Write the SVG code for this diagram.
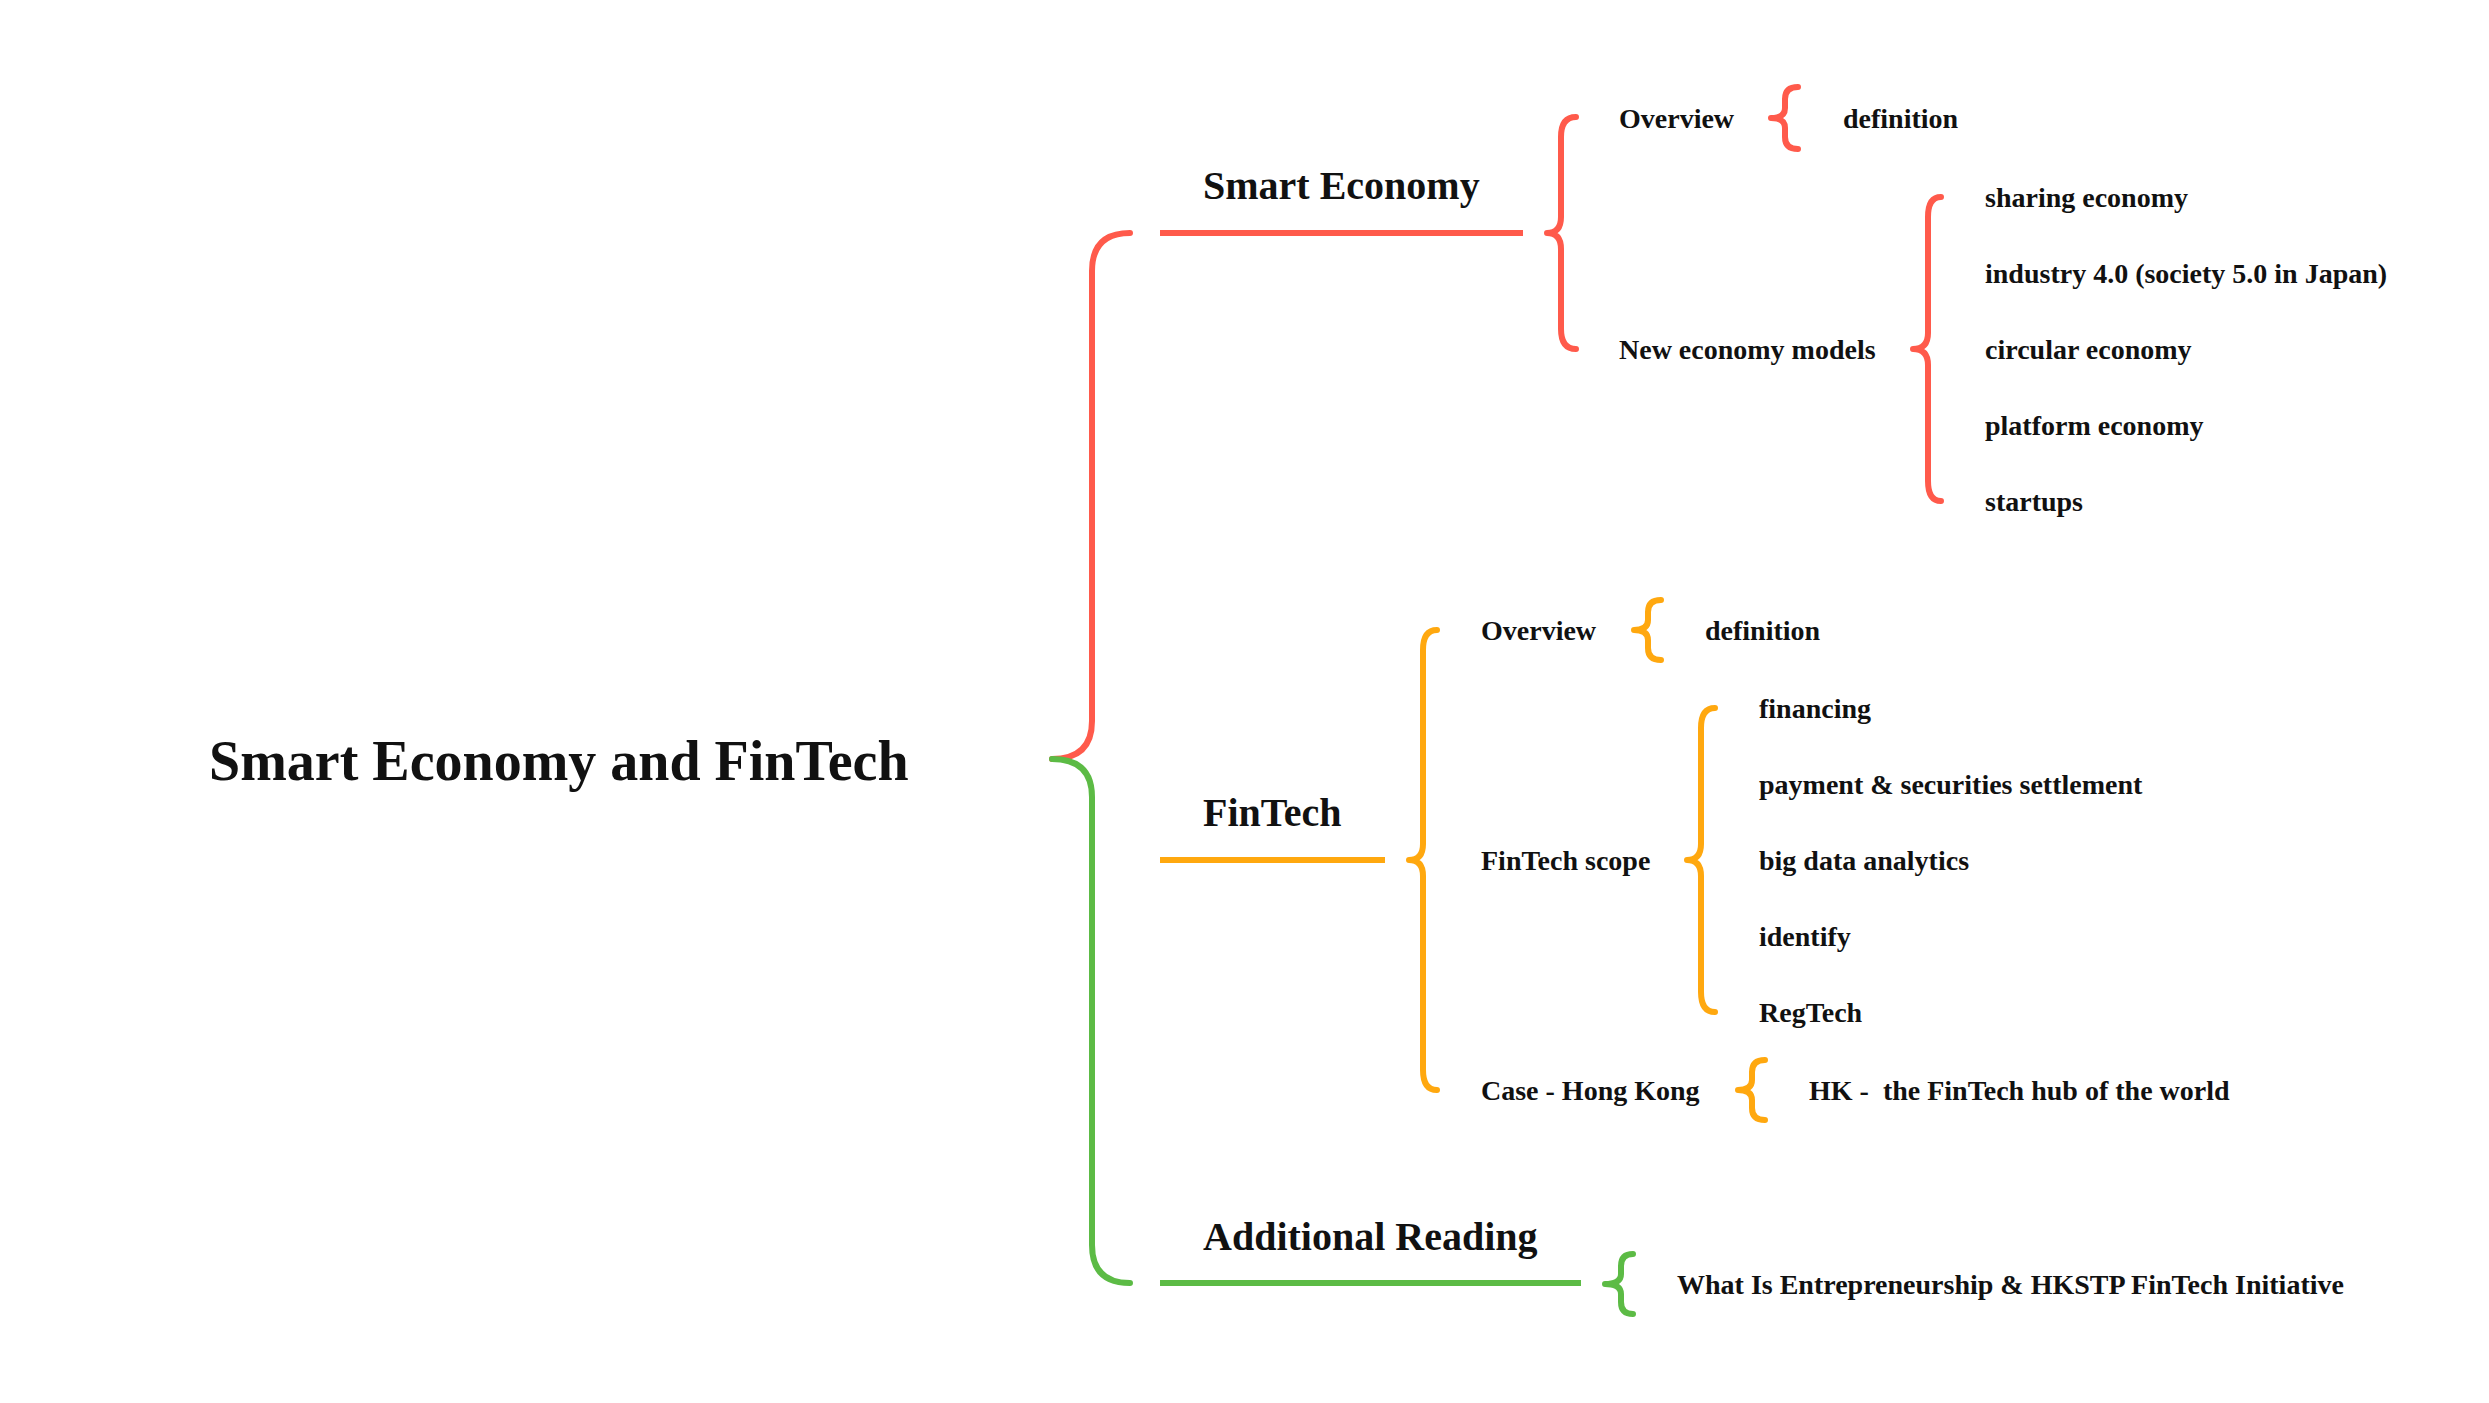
<svg xmlns="http://www.w3.org/2000/svg" width="2489" height="1403" viewBox="0 0 2489 1403">
<style>
text{font-family:"Liberation Serif","Times New Roman",serif;font-weight:bold;fill:#111111;white-space:pre}
.t0{font-size:56px}
.t1{font-size:40px}
.t2{font-size:28px}
.br{fill:none;stroke-width:6;stroke-linecap:round;stroke-linejoin:round}
.ln{fill:none;stroke-width:6;stroke-linecap:butt}
.red{stroke:#FF5A4B}
.org{stroke:#FFA80F}
.grn{stroke:#5CBB45}
</style>
<rect width="2489" height="1403" fill="#ffffff"/>
<g id="connectors">
<path class="br red" d="M1130 233 Q1092 233 1092 271 L1092 721 Q1092 759 1052 759"/>
<path class="br grn" d="M1052 759 Q1092 759 1092 797 L1092 1245 Q1092 1283 1130 1283"/>
<line class="ln red" x1="1160" y1="233" x2="1523" y2="233"/>
<line class="ln org" x1="1160" y1="860" x2="1385" y2="860"/>
<line class="ln grn" x1="1160" y1="1283" x2="1581" y2="1283"/>
<path class="br red" d="M1576 117 Q1561 117 1561 137 L1561 217 Q1561 233 1547 233 Q1561 233 1561 249 L1561 329 Q1561 349 1576 349"/>
<path class="br red" d="M1798 87 Q1785 87 1785 99 L1785 108 Q1785 118 1771 118 Q1785 118 1785 128 L1785 137 Q1785 149 1798 149"/>
<path class="br red" d="M1941 197 Q1928 197 1928 217 L1928 333 Q1928 349 1913 349 Q1928 349 1928 365 L1928 481 Q1928 501 1941 501"/>
<path class="br org" d="M1437 630 Q1423 630 1423 650 L1423 844 Q1423 860 1409 860 Q1423 860 1423 876 L1423 1070 Q1423 1090 1437 1090"/>
<path class="br org" d="M1661 600 Q1648 600 1648 612 L1648 620 Q1648 630 1634 630 Q1648 630 1648 640 L1648 648 Q1648 660 1661 660"/>
<path class="br org" d="M1715 708 Q1701 708 1701 728 L1701 844 Q1701 860 1687 860 Q1701 860 1701 876 L1701 992 Q1701 1012 1715 1012"/>
<path class="br org" d="M1765 1060 Q1752 1060 1752 1072 L1752 1080 Q1752 1090 1738 1090 Q1752 1090 1752 1100 L1752 1108 Q1752 1120 1765 1120"/>
<path class="br grn" d="M1633 1254 Q1621 1254 1621 1266 L1621 1274 Q1621 1284 1605 1284 Q1621 1284 1621 1294 L1621 1302 Q1621 1314 1633 1314"/>
</g>
<g id="root"><text class="t0" x="209" y="780">Smart Economy and FinTech</text></g>
<g id="smart-economy"><text class="t1" x="1203" y="199">Smart Economy</text></g>
<g id="se-overview"><text class="t2" x="1619" y="128">Overview</text></g>
<g id="se-definition"><text class="t2" x="1843" y="128">definition</text></g>
<g id="se-models"><text class="t2" x="1619" y="359">New economy models</text></g>
<g id="se-sharing"><text class="t2" x="1985" y="207">sharing economy</text></g>
<g id="se-industry"><text class="t2" x="1985" y="283">industry 4.0 (society 5.0 in Japan)</text></g>
<g id="se-circular"><text class="t2" x="1985" y="359">circular economy</text></g>
<g id="se-platform"><text class="t2" x="1985" y="435">platform economy</text></g>
<g id="se-startups"><text class="t2" x="1985" y="511">startups</text></g>
<g id="fintech"><text class="t1" x="1203" y="826">FinTech</text></g>
<g id="ft-overview"><text class="t2" x="1481" y="640">Overview</text></g>
<g id="ft-definition"><text class="t2" x="1705" y="640">definition</text></g>
<g id="ft-scope"><text class="t2" x="1481" y="870">FinTech scope</text></g>
<g id="ft-financing"><text class="t2" x="1759" y="718">financing</text></g>
<g id="ft-payment"><text class="t2" x="1759" y="794">payment &amp; securities settlement</text></g>
<g id="ft-bigdata"><text class="t2" x="1759" y="870">big data analytics</text></g>
<g id="ft-identify"><text class="t2" x="1759" y="946">identify</text></g>
<g id="ft-regtech"><text class="t2" x="1759" y="1022">RegTech</text></g>
<g id="ft-case"><text class="t2" x="1481" y="1100">Case - Hong Kong</text></g>
<g id="ft-hk"><text class="t2" x="1809" y="1100">HK -  the FinTech hub of the world</text></g>
<g id="additional-reading"><text class="t1" x="1203" y="1250">Additional Reading</text></g>
<g id="ar-item"><text class="t2" x="1677" y="1294">What Is Entrepreneurship &amp; HKSTP FinTech Initiative</text></g>
</svg>
